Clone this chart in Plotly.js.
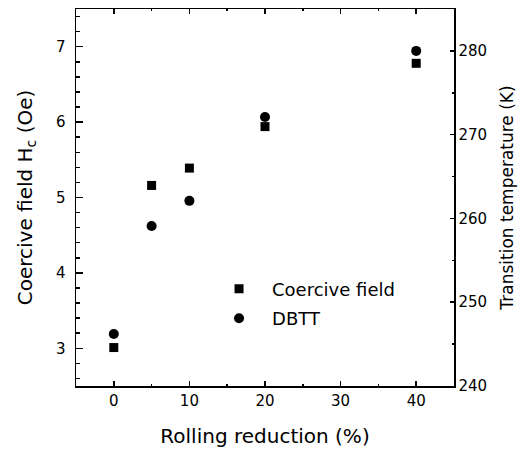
<!DOCTYPE html>
<html>
<head>
<meta charset="utf-8">
<script src="https://cdn.plot.ly/plotly-3.0.1.min.js"></script>
<style>html,body{margin:0;padding:0;background:#fff;}#chart{width:520px;height:451px;}</style>
</head>
<body>
<div id="chart"></div>
<script>
const rollingReduction = [0, 5, 10, 20, 40];
const coerciveField = [3.01, 5.16, 5.39, 5.94, 6.78];
const dbtt = [246.2, 259.1, 262.1, 272.1, 280.0];
const xTickVals = [0, 10, 20, 30, 40];
const yTickVals = [3, 4, 5, 6, 7];
const y2TickVals = [240, 250, 260, 270, 280];

const FONT = 'DejaVu Sans, Liberation Sans, Arial, sans-serif';

const traces = [
  {
    x: rollingReduction, y: coerciveField, name: 'Coercive field',
    type: 'scatter', mode: 'markers', legendgroup: 'a',
    marker: {symbol: 'square', size: 9, color: '#000'}
  },
  {
    x: rollingReduction, y: dbtt, name: 'DBTT', yaxis: 'y2',
    type: 'scatter', mode: 'markers', legendgroup: 'b',
    marker: {symbol: 'circle', size: 10, color: '#000'}
  }
];

const axisCommon = {
  showline: true, linecolor: '#000', linewidth: 1.5,
  showgrid: false, zeroline: false,
  ticks: 'inside', tickcolor: '#000', tickwidth: 1.5,
  tickfont: {family: FONT, size: 15, color: '#000'}
};

const layout = {
  width: 520, height: 451,
  margin: {l: 76, r: 66, t: 9, b: 65},
  paper_bgcolor: '#fff', plot_bgcolor: '#fff',
  font: {family: FONT, color: '#000'},
  showlegend: true,
  legend: {
    x: 0.344, y: 0.306, xanchor: 'left', yanchor: 'top',
    bgcolor: 'rgba(0,0,0,0)', borderwidth: 0,
    font: {family: FONT, size: 18, color: '#000'},
    tracegroupgap: 3, itemwidth: 56
  },
  xaxis: Object.assign({}, axisCommon, {
    range: [-5, 45], tickvals: xTickVals, ticklen: 5, mirror: 'ticks',
    minor: {dtick: 5, tick0: 5, ticks: 'inside', ticklen: 2, tickcolor: '#000', tickwidth: 1.5},
    title: {text: 'Rolling reduction (%)', font: {family: FONT, size: 20, color: '#000'}, standoff: 20}
  }),
  yaxis: Object.assign({}, axisCommon, {
    range: [2.5, 7.5], tickvals: yTickVals, ticklen: 7,
    ticklabelstandoff: 6,
    minor: {dtick: 0.2, tick0: 3, ticks: 'inside', ticklen: 4, tickcolor: '#000', tickwidth: 1.5},
    title: {text: 'Coercive field H<sub>c</sub> (Oe)', font: {family: FONT, size: 20, color: '#000'}, standoff: 18}
  }),
  yaxis2: Object.assign({}, axisCommon, {
    overlaying: 'y', side: 'right',
    range: [240, 285], tickvals: y2TickVals, ticklen: 4,
    minor: {dtick: 5, tick0: 245, ticks: 'inside', ticklen: 2, tickcolor: '#000', tickwidth: 1.5},
    title: {text: 'Transition temperature (K)', font: {family: FONT, size: 17, color: '#000'}, standoff: 15}
  })
};

Plotly.newPlot('chart', traces, layout, {displayModeBar: false, staticPlot: true});
</script>
</body>
</html>
